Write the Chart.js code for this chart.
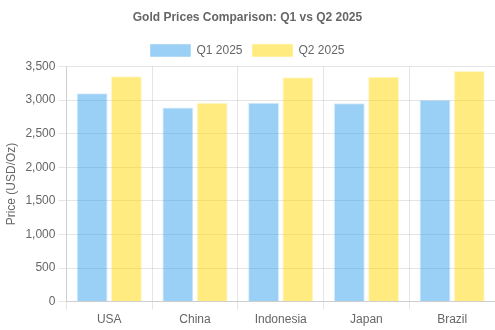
<!DOCTYPE html>
<html>
<head>
<meta charset="utf-8">
<script src="https://cdn.jsdelivr.net/npm/chart.js@4/dist/chart.umd.min.js"></script>
<style>
  html, body { margin: 0; padding: 0; background: #fff; }
  #wrap { width: 495px; height: 330px; }
</style>
</head>
<body>
<div id="wrap"><canvas id="c"></canvas></div>
<script>
// Gold prices per country, USD per ounce
const countries = ['USA', 'China', 'Indonesia', 'Japan', 'Brazil'];
const q1Prices = [3100, 2890, 2960, 2950, 3000];
const q2Prices = [3355, 2960, 3340, 3345, 3430];
const seriesNames = ['Q1 2025', 'Q2 2025'];

Chart.defaults.font.family = '"Liberation Sans", Arial, Helvetica, sans-serif';
Chart.defaults.color = '#666';

new Chart(document.getElementById('c'), {
  type: 'bar',
  data: {
    labels: countries,
    datasets: [
      {
        label: seriesNames[0],
        data: q1Prices,
        backgroundColor: 'rgba(54, 162, 235, 0.5)',
        borderColor: 'rgba(54, 162, 235, 0.2)',
        borderWidth: 1
      },
      {
        label: seriesNames[1],
        data: q2Prices,
        backgroundColor: 'rgba(255, 215, 0, 0.5)',
        borderColor: 'rgba(255, 215, 0, 0.2)',
        borderWidth: 1
      }
    ]
  },
  options: {
    responsive: true,
    maintainAspectRatio: false,
    animation: false,
    plugins: {
      title: {
        display: true,
        text: 'Gold Prices Comparison: Q1 vs Q2 2025',
        font: { size: 12, weight: 'bold' },
        padding: { top: 10, bottom: 10 }
      },
      legend: {
        labels: { font: { size: 12 } }
      }
    },
    scales: {
      y: {
        beginAtZero: true,
        max: 3500,
        ticks: { stepSize: 500 },
        title: { display: true, text: 'Price (USD/Oz)', font: { size: 12 } }
      }
    }
  }
});
</script>
</body>
</html>
